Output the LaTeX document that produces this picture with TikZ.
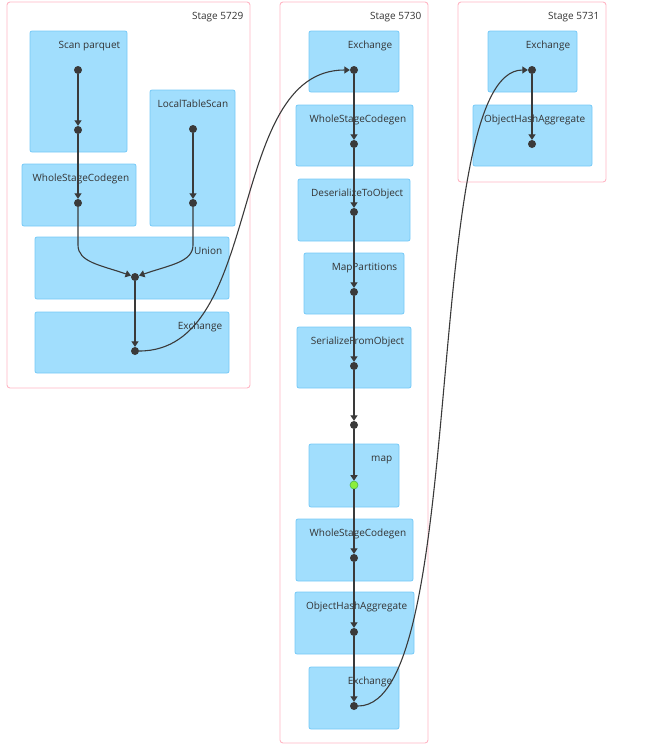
\documentclass[tikz,border=0pt]{standalone}
\usepackage{fontspec}
\setmainfont{Open Sans}
\usetikzlibrary{calc}
\usetikzlibrary{arrows.meta}
\usetikzlibrary{fit}
\usepackage{xcolor}
\definecolor{opfill}{RGB}{161,222,253}
\definecolor{opline}{RGB}{118,202,247}
\definecolor{stageline}{RGB}{255,182,196}
\definecolor{dotgray}{RGB}{58,58,58}
\definecolor{dotgreen}{RGB}{140,238,60}

\tikzset{
 opbox/.style={draw=opline, fill=opfill, rounded corners=2pt, inner sep=0, line width=.8pt},
 stagebox/.style={draw=stageline, rounded corners=3pt, inner sep=0, line width=.9pt},
 oplabel/.style={anchor=base east, font=\fontsize{10}{11}\selectfont, text=black!80, inner sep=0},
 dot/.style={circle, fill=dotgray, inner sep=0, minimum size=8pt},
 edge/.style={draw=dotgray, line width=1.1pt, -{Triangle[length=5.5pt,width=7pt]}},
}

% box with its label in the top right corner
\newcommand\opnode[6]{%
 \node[opbox, fit={(#2,#3) (#4,#5)}] (#1) {};
 \node[oplabel] (#1-l) at ($(#1.north east)+(-7,18)$) {#6};
}
\newcommand\stagenode[6]{%
 \node[stagebox, fit={(#2,#3) (#4,#5)}] (#1) {};
 \node[oplabel] (#1-l) at ($(#1.north east)+(-7,18)$) {#6};
}

\begin{document}
\begin{tikzpicture}[x=1pt, y=-1pt]
\useasboundingbox (0,0) rectangle (648,753);

% stages
\stagenode{st29}{7}{2}{250}{388}{Stage 5729}
\stagenode{st30}{280}{2}{428}{743}{Stage 5730}
\stagenode{st31}{458}{2}{606}{182}{Stage 5731}

% Stage 5729
\opnode{scan}{30}{31}{127}{152}{Scan parquet}
\opnode{lts}{150}{90}{235}{226}{LocalTableScan}
\opnode{wsc}{22}{164}{136}{226}{WholeStageCodegen}
\opnode{uni}{35}{237}{229}{299}{Union}
\opnode{exa}{35}{312}{229}{373}{Exchange}
\node[dot] (sp1) at (78,70) {};
\node[dot] (sp2) at (78,130) {};
\node[dot] (lt1) at (193,129) {};
\node[dot] (lt2) at (193,203) {};
\node[dot] (ws1) at (78,203) {};
\node[dot] (un1) at (135,277) {};
\node[dot] (ex1) at (135,351) {};

% Stage 5730
\opnode{exb}{309}{31}{399}{92}{Exchange}
\opnode{wsb}{296}{105}{413}{166}{WholeStageCodegen}
\opnode{des}{298}{179}{410}{241}{DeserializeToObject}
\opnode{mpt}{304}{253}{404}{314}{MapPartitions}
\opnode{ser}{297}{327}{411}{388}{SerializeFromObject}
\opnode{map}{309}{444}{399}{507}{map}
\opnode{wsd}{296}{519}{413}{581}{WholeStageCodegen}
\opnode{oha}{295}{592}{414}{654}{ObjectHashAggregate}
\opnode{exc}{309}{667}{399}{729}{Exchange}
\node[dot] (ea) at (354,70) {};
\node[dot] (wa) at (354,144) {};
\node[dot] (da) at (354,212) {};
\node[dot] (ma) at (354,292) {};
\node[dot] (sa) at (354,366) {};
\node[dot] (mid) at (354,425) {};
\node[dot, fill=dotgreen, draw=green!60!black!70, line width=.6pt] (mp) at (354,485) {};
\node[dot] (wb) at (354,558) {};
\node[dot] (oa) at (354,632) {};
\node[dot] (xe) at (354,706) {};

% Stage 5731
\opnode{exd}{488}{31}{577}{92}{Exchange}
\opnode{ohb}{473}{105}{592}{166}{ObjectHashAggregate}
\node[dot] (fa) at (532,70) {};
\node[dot] (fb) at (532,144) {};

% edges
\draw[edge] (sp1) -- (sp2);
\draw[edge] (sp2) -- (ws1);
\draw[edge] (lt1) -- (lt2);
\draw[edge] (ws1) -- (78,245) .. controls (78,262) and (100,265) .. (un1);
\draw[edge] (lt2) -- (193,245) .. controls (193,262) and (170,265) .. (un1);
\draw[edge] (un1) -- (ex1);
\draw[edge] (ex1) .. controls (265,351) and (225,70) .. (ea);
\foreach \a/\b in {ea/wa, wa/da, da/ma, ma/sa, sa/mid, mid/mp, mp/wb, wb/oa, oa/xe}
 \draw[edge] (\a) -- (\b);
\draw[edge] (xe) .. controls (470,706) and (420,70) .. (fa);
\draw[edge] (fa) -- (fb);
\end{tikzpicture}
\end{document}
